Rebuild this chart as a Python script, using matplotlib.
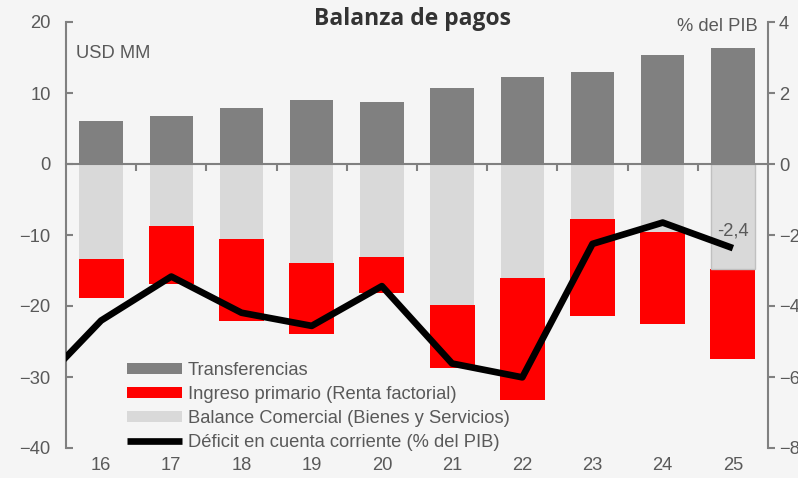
import numpy as np
import matplotlib.pyplot as plt

# datos (USD MM y % del PIB)
years = ["16", "17", "18", "19", "20", "21", "22", "23", "24", "25"]
transferencias = [6.1, 6.8, 7.9, 9.0, 8.7, 10.7, 12.2, 12.9, 15.4, 16.3]
balance_comercial = [-13.4, -8.7, -10.5, -14.0, -13.1, -19.9, -16.0, -7.7, -9.6, -14.8]
ingreso_primario = [-5.5, -8.2, -11.6, -10.0, -5.0, -8.9, -17.2, -13.7, -13.0, -12.6]
deficit_prev = -6.47  # año 15, fuera del eje
deficit_pib = [-4.41, -3.17, -4.19, -4.56, -3.44, -5.62, -6.01, -2.25, -1.65, -2.37]

txt = "#595959"
ax_col = "#808080"
bg = "#f5f5f5"
fs = 13.2

plt.rcParams['font.family'] = ['Liberation Sans', 'DejaVu Sans']

fig = plt.figure(figsize=(7.98, 4.78), dpi=100, facecolor=bg)
ax = fig.add_axes([66/798, 1-448/478, 702/798, 426/478])
ax.set_facecolor(bg)
ax2 = ax.twinx()

x = np.arange(len(years))
ax.bar(x, transferencias, width=0.62, color="#808080", label="Transferencias", zorder=2)
ax.bar(x, ingreso_primario, width=0.64, bottom=balance_comercial, color="#ff0000",
       label="Ingreso primario (Renta factorial)", zorder=2)
bc = ax.bar(x, balance_comercial, width=0.62, color="#d9d9d9",
            label="Balance Comercial (Bienes y Servicios)", zorder=2)
bc[-1].set_edgecolor("#c0c0c0")
bc[-1].set_linewidth(1.0)

xl = np.concatenate([[-1], x])
yl = [deficit_prev] + deficit_pib
line, = ax2.plot(xl, yl, color="black", lw=4.8, solid_capstyle="butt",
                 label="Déficit en cuenta corriente (% del PIB)", zorder=3)
ax2.annotate("-2,4", (x[-1], deficit_pib[-1]), xytext=(0, 6), textcoords="offset points",
             ha="center", va="bottom", fontsize=fs, color=txt)

ax.set_xlim(-0.5, 9.5)
ax.set_ylim(-40, 20)
ax2.set_ylim(-8, 4)
ax.set_yticks([-40, -30, -20, -10, 0, 10, 20])
ax2.set_yticks([-8, -6, -4, -2, 0, 2, 4])

for s in ["top", "right"]:
    ax.spines[s].set_visible(False)
for s in ["top", "left", "bottom"]:
    ax2.spines[s].set_visible(False)
ax.spines["bottom"].set_position(("data", 0))
for s in [ax.spines["left"], ax.spines["bottom"], ax2.spines["right"]]:
    s.set_color(ax_col)
    s.set_linewidth(1.5)

ax.set_xticks(np.arange(0.5, 9.5, 1))
ax.tick_params(axis="x", length=5, width=1.5, color=ax_col, labelbottom=False, direction="out")
ax.tick_params(axis="y", length=5, width=1.5, color=ax_col, direction="in",
               labelsize=fs, labelcolor=txt, pad=11)
ax2.tick_params(axis="y", length=5, width=1.5, color=ax_col, direction="out",
                labelsize=fs, labelcolor=txt, pad=3)

for xi, lab in zip(x, years):
    ax.text(xi, -0.022, lab, transform=ax.get_xaxis_transform(), ha="center", va="top",
            fontsize=fs, color=txt)

ax.text(0.014, 0.925, "USD MM", transform=ax.transAxes, ha="left", va="center",
        fontsize=fs, color=txt)
ax2.text(0.985, 0.99, "% del PIB", transform=ax.transAxes, ha="right", va="center",
         fontsize=fs, color=txt)
fig.text(412/798, 1-19/478, "Balanza de pagos", ha="center", va="center",
         fontsize=16.5, fontweight="bold", color="#333333", family=["Open Sans", "DejaVu Sans"])

h1, l1 = ax.get_legend_handles_labels()
handles = h1 + [line]
labels = l1 + [line.get_label()]
leg = ax2.legend(handles, labels, loc="upper left", bbox_to_anchor=(61/702, 1-(362-22)/426),
                 frameon=False, fontsize=fs, handlelength=3.0, handleheight=0.5,
                 labelspacing=0.38, handletextpad=0.3, borderaxespad=0, borderpad=0)
for t in leg.get_texts():
    t.set_color(txt)

fig.savefig("out.png", dpi=100, facecolor=bg)
